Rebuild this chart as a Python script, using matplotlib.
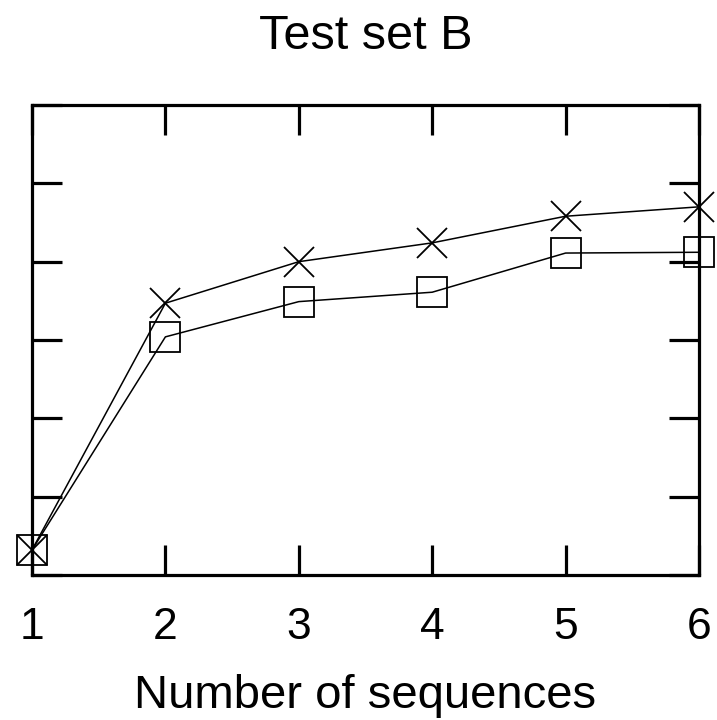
import matplotlib
matplotlib.use("Agg")
import matplotlib.pyplot as plt

plt.rcParams['font.family'] = ['Liberation Sans', 'DejaVu Sans']

# number of sequences
sequences = [1, 2, 3, 4, 5, 6]
# the two series (y axis has no labels, values in tick units)
cross_vals = [0.32, 3.47, 4.00, 4.24, 4.58, 4.70]
square_vals = [0.32, 3.04, 3.49, 3.61, 4.11, 4.12]

fig = plt.figure(figsize=(7.17, 7.2), dpi=100)
ax = fig.add_axes([32 / 717, 145 / 720, 667 / 717, 470 / 720])

ax.plot(sequences, cross_vals, color='black', lw=1.1, marker='x',
        markersize=21, markeredgewidth=1.3, clip_on=False, zorder=3)
ax.plot(sequences, square_vals, color='black', lw=1.1, marker='s',
        markersize=21, markerfacecolor='none', markeredgewidth=1.3,
        clip_on=False, zorder=3)

ax.set_xlim(1, 6)
ax.set_ylim(0, 6)
ax.set_xticks(sequences)
ax.set_yticks(range(0, 7))
ax.set_yticklabels([])

for s in ax.spines.values():
    s.set_linewidth(2.3)
ax.tick_params(axis='both', direction='in', length=21.5, width=2.3,
               top=True, right=True, labelsize=32, pad=23)
ax.tick_params(axis='y', left=True, right=True)

ax.set_xlabel("Number of sequences", fontsize=34, labelpad=19)
ax.set_title("Test set B", fontsize=35, pad=40)

fig.savefig("out.png", dpi=100)
